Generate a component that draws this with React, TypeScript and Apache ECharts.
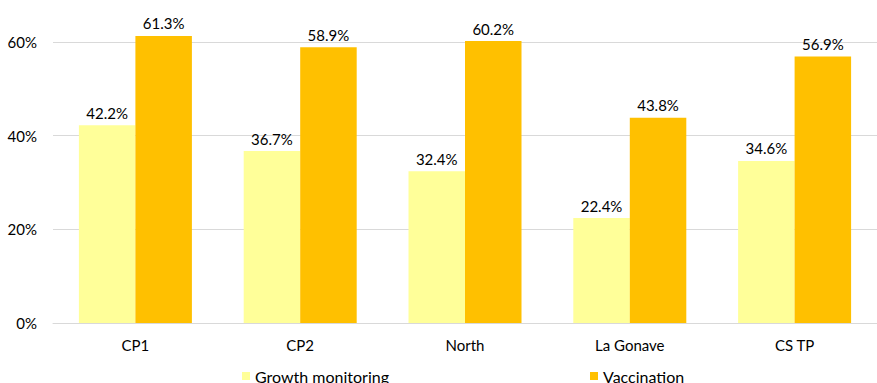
import React, { useEffect, useRef } from "react";
import * as echarts from "echarts";

const categories = ["CP1", "CP2", "North", "La Gonave", "CS TP"];
const growthMonitoring = [42.2, 36.7, 32.4, 22.4, 34.6];
const vaccination = [61.3, 58.9, 60.2, 43.8, 56.9];
const seriesNames = ["Growth monitoring", "Vaccination"];

const FONT = "Lato, 'Noto Sans', sans-serif";

export default function App() {
  const ref = useRef<HTMLDivElement>(null);
  useEffect(() => {
    if (!ref.current) return;
    const chart = echarts.init(ref.current, undefined, { renderer: "svg" });
    const label = {
      show: true,
      position: "top" as const,
      distance: 5,
      color: "#000",
      fontSize: 15,
      fontFamily: FONT,
      formatter: (p: any) => p.value.toFixed(1) + "%",
    };
    const legendBase = {
      top: 363,
      icon: "rect",
      itemWidth: 8,
      itemHeight: 8,
      itemGap: 5,
      textStyle: { fontSize: 16, color: "#000", fontFamily: FONT },
    };
    chart.setOption({
      animation: false,
      textStyle: { fontFamily: FONT },
      grid: { left: 53, top: 42, width: 841, height: 281, containLabel: false },
      legend: [
        { ...legendBase, data: [seriesNames[0]], left: 237 },
        { ...legendBase, data: [seriesNames[1]], left: 585 },
      ],
      xAxis: {
        type: "category",
        data: categories,
        axisLine: { show: true, lineStyle: { color: "#D9D9D9", width: 1 } },
        axisTick: { show: false },
        axisLabel: { color: "#000", fontSize: 15, margin: 14, fontFamily: FONT },
      },
      yAxis: {
        type: "value",
        min: 0,
        max: 60,
        interval: 20,
        axisLine: { show: false },
        axisTick: { show: false },
        axisLabel: {
          formatter: "{value}%",
          color: "#000",
          fontSize: 15,
          margin: 16,
          fontFamily: FONT,
        },
        splitLine: { lineStyle: { color: "#D9D9D9", width: 1 } },
      },
      series: [
        {
          name: seriesNames[0],
          type: "bar",
          data: growthMonitoring,
          barWidth: 56.5,
          barGap: "0%",
          clip: false,
          itemStyle: { color: "#FFFF99" },
          label,
        },
        {
          name: seriesNames[1],
          type: "bar",
          data: vaccination,
          barWidth: 56.5,
          barGap: "0%",
          clip: false,
          itemStyle: { color: "#FFC000" },
          label,
        },
      ],
    });
    return () => chart.dispose();
  }, []);
  return (
    <div
      ref={ref}
      style={{ position: "fixed", left: 0, top: 0, width: 877, height: 383, background: "#fff" }}
    />
  );
}
